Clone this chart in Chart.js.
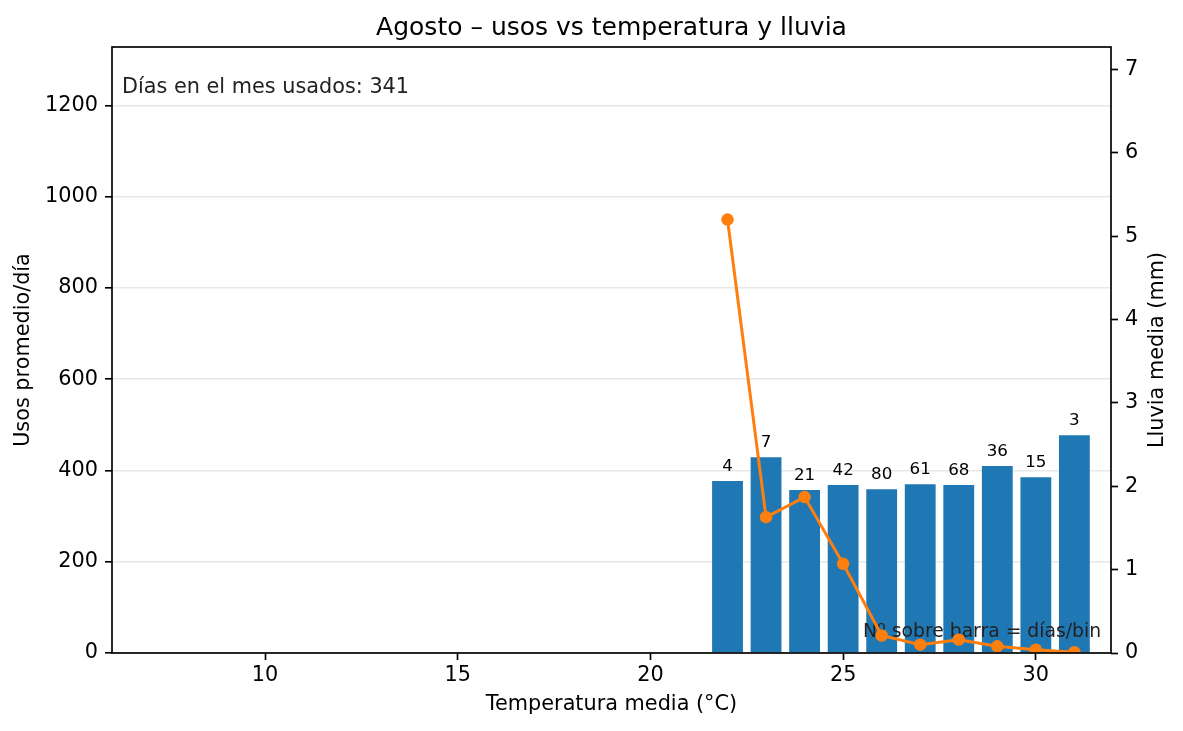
<!DOCTYPE html>
<html>
<head>
<meta charset="utf-8">
<script src="https://cdn.jsdelivr.net/npm/chart.js@4.4.1/dist/chart.umd.min.js"></script>
<style>
  html, body { margin: 0; padding: 0; background: #ffffff; }
  #wrap { width: 1183px; height: 731px; }
</style>
</head>
<body>
<div id="wrap"><canvas id="c" width="1183" height="731"></canvas></div>
<script>
// ---- data ----
const tempBins = [22, 23, 24, 25, 26, 27, 28, 29, 30, 31];
const usosPromedio = [377, 429, 357, 368, 359, 370, 368, 410, 385, 477];
const diasPorBin = [4, 7, 21, 42, 80, 61, 68, 36, 15, 3];
const lluviaMedia = [5.20, 1.63, 1.87, 1.07, 0.21, 0.10, 0.16, 0.08, 0.04, 0.01];
const xTicks = [10, 15, 20, 25, 30];
const yLeftTicks = [0, 200, 400, 600, 800, 1000, 1200];
const yRightTicks = [0, 1, 2, 3, 4, 5, 6, 7];
const titleText = 'Agosto – usos vs temperatura y lluvia';
const xTitle = 'Temperatura media (°C)';
const yLeftTitle = 'Usos promedio/día';
const yRightTitle = 'Lluvia media (mm)';
const diasText = 'Días en el mes usados: 341';
const noteText = 'Nº sobre barra = días/bin';

const FONT = "'DejaVu Sans', sans-serif";
const BLUE = '#1f77b4';
const ORANGE = '#ff7f0e';

const barData = tempBins.map((t, i) => ({ x: t, y: usosPromedio[i] }));
const lineData = tempBins.map((t, i) => ({ x: t, y: lluviaMedia[i] }));

const setTicks = (arr) => (scale) => { scale.ticks = arr.map(v => ({ value: v })); };
const plainLabel = (v) => String(v);

const overlayPlugin = {
  id: 'overlay',
  afterDatasetDraw(chart, args) {
    if (args.meta.type !== 'bar') return;
    const ctx = chart.ctx;
    const a = chart.chartArea;
    ctx.save();
    ctx.fillStyle = '#000';
    ctx.font = '16.7px ' + FONT;
    ctx.textAlign = 'center';
    ctx.textBaseline = 'alphabetic';
    args.meta.data.forEach((el, i) => {
      ctx.fillText(String(diasPorBin[i]), el.x, el.y - 10.2);
    });
    ctx.fillStyle = '#222';
    ctx.font = '20.8px ' + FONT;
    ctx.textAlign = 'left';
    ctx.fillText(diasText, a.left + 0.01 * (a.right - a.left), a.top + 46);
    ctx.font = '18.75px ' + FONT;
    ctx.textAlign = 'right';
    ctx.fillText(noteText, a.left + 0.99 * (a.right - a.left), a.bottom - 16.4);
    ctx.restore();
  },
  afterDraw(chart) {
    const ctx = chart.ctx;
    const a = chart.chartArea;
    ctx.save();
    ctx.strokeStyle = '#000';
    ctx.lineWidth = 1.67;
    ctx.strokeRect(a.left, a.top, a.right - a.left, a.bottom - a.top);
    // title centred over the axes
    ctx.fillStyle = '#000';
    ctx.font = '25px ' + FONT;
    ctx.textAlign = 'center';
    ctx.textBaseline = 'alphabetic';
    ctx.fillText(titleText, (a.left + a.right) / 2, 34.5);
    // right axis title (reads bottom to top)
    ctx.font = '20.8px ' + FONT;
    ctx.textBaseline = 'middle';
    ctx.translate(1158, (a.top + a.bottom) / 2);
    ctx.rotate(-Math.PI / 2);
    ctx.fillText(yRightTitle, 0, 0);
    ctx.restore();
  }
};

new Chart(document.getElementById('c'), {
  data: {
    datasets: [
      {
        type: 'bar',
        data: barData,
        backgroundColor: BLUE,
        borderWidth: 0,
        barPercentage: 0.8,
        categoryPercentage: 1.0,
        yAxisID: 'y',
        xAxisID: 'x',
        order: 2
      },
      {
        type: 'line',
        data: lineData,
        borderColor: ORANGE,
        backgroundColor: ORANGE,
        borderWidth: 3,
        pointRadius: 6.25,
        pointBorderWidth: 0,
        pointBackgroundColor: ORANGE,
        tension: 0,
        clip: 0,
        yAxisID: 'y1',
        xAxisID: 'x',
        order: 1
      }
    ]
  },
  options: {
    responsive: false,
    animation: false,
    devicePixelRatio: 1,
    layout: { padding: { top: 47, left: 0, right: 0, bottom: 0 } },
    plugins: {
      legend: { display: false },
      tooltip: { enabled: false },
      title: { display: false }
    },
    scales: {
      x: {
        type: 'linear',
        position: 'bottom',
        offset: false,
        min: 6.03,
        max: 31.95,
        afterBuildTicks: setTicks(xTicks),
        afterFit: (s) => { s.height = 78; },
        border: { display: false },
        grid: { offset: false, drawOnChartArea: false, drawTicks: true, tickLength: 7, tickColor: '#000', tickWidth: 1.67 },
        ticks: { color: '#000', font: { family: FONT, size: 20.8 }, padding: 3.5, maxRotation: 0, callback: plainLabel },
        title: { display: true, text: xTitle, color: '#000', font: { family: FONT, size: 20.8 }, padding: { top: 0, bottom: 13.5 } }
      },
      y: {
        type: 'linear',
        position: 'left',
        min: 0,
        max: 1328,
        afterBuildTicks: setTicks(yLeftTicks),
        afterFit: (s) => { s.width = 112; },
        border: { display: false },
        grid: { color: '#e8e8e8', lineWidth: 1.6, drawTicks: true, tickLength: 7, tickColor: '#000', tickWidth: 1.67 },
        ticks: { color: '#000', font: { family: FONT, size: 20.8 }, padding: 7, callback: plainLabel },
        title: { display: true, text: yLeftTitle, color: '#000', font: { family: FONT, size: 20.8 }, padding: { top: 11.5, bottom: 0 } }
      },
      y1: {
        type: 'linear',
        position: 'right',
        min: 0,
        max: 7.27,
        afterBuildTicks: setTicks(yRightTicks),
        afterFit: (s) => { s.width = 72; },
        border: { display: false },
        grid: { drawOnChartArea: false, drawTicks: true, tickLength: 7, tickColor: '#000', tickWidth: 1.67 },
        ticks: { color: '#000', font: { family: FONT, size: 20.8 }, padding: 7, callback: plainLabel }
      }
    }
  },
  plugins: [overlayPlugin]
});
</script>
</body>
</html>
